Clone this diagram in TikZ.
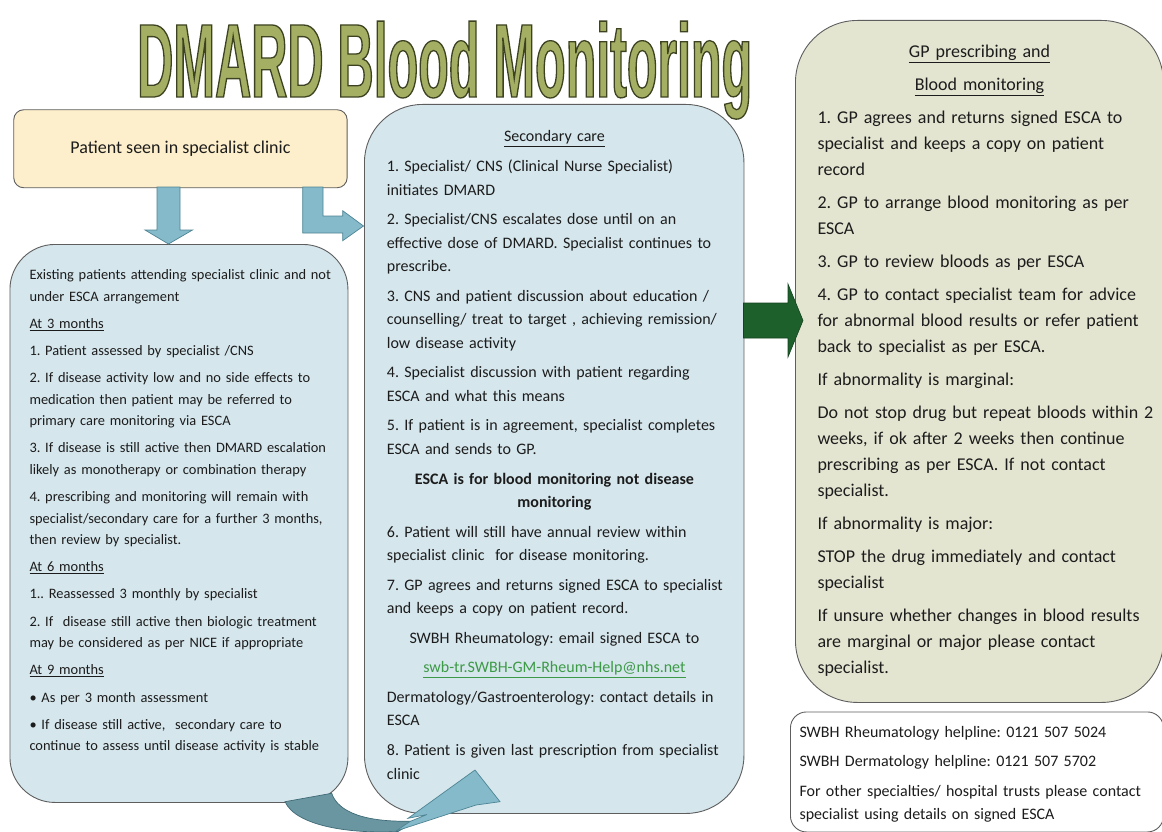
\documentclass[tikz,border=0pt]{standalone}
\usepackage{fontspec}
\setmainfont{Carlito}
\newfontfamily\titlefont[FakeStretch=0.4785]{Liberation Sans Bold}
\definecolor{txt}{HTML}{1C1C1C}
\definecolor{edge}{HTML}{5E5E5E}
\definecolor{patfill}{HTML}{FDEFCB}
\definecolor{bluefill}{HTML}{D5E6EC}
\definecolor{olivefill}{HTML}{E4E5D1}
\definecolor{arrblue}{HTML}{84BAC9}
\definecolor{arredge}{HTML}{4E8494}
\definecolor{darkband}{HTML}{6A96A2}
\definecolor{arrgreen}{HTML}{1E602C}
\definecolor{linkgreen}{HTML}{3C9A46}
\definecolor{titlefill}{HTML}{A5AF63}
\newcommand{\midc}[1]{\makebox[335pt][c]{#1}}
\newcommand{\rightc}[1]{\makebox[324pt][c]{#1}}
\frenchspacing
\begin{document}
\begin{tikzpicture}[x=1pt,y=-1pt,
  panel/.style={draw=edge, line width=0.9pt, anchor=north west, inner sep=0pt},
  bodytext/.style={anchor=base west, inner sep=0pt, align=left, text=txt},
  blockarrow/.style={fill=arrblue, draw=arredge, line width=0.7pt, line join=miter},
  titlestyle/.style={anchor=base west, inner sep=0pt, text=titlefill, font=\titlefont\fontsize{104.7}{110}\selectfont}]
\useasboundingbox[fill=white] (0,0) rectangle (1162,832);

% panels
\node[panel, fill=patfill, rounded corners=10pt, minimum width=333.4pt, minimum height=78pt,
      font=\fontsize{18}{22}\selectfont, text=txt] (patient) at (13.3,109.3) {Patient seen in specialist clinic};
\node[panel, fill=bluefill, rounded corners=45pt, minimum width=338pt, minimum height=558pt] (leftbox) at (9.5,244) {};
\node[panel, fill=bluefill, rounded corners=58pt, minimum width=379.5pt, minimum height=709pt] (midbox) at (364,104) {};
\node[panel, fill=olivefill, rounded corners=62pt, minimum width=368pt, minimum height=682pt] (rightbox) at (795,20) {};
\node[panel, fill=white, rounded corners=16pt, minimum width=373pt, minimum height=120pt] (helpbox) at (790,711.5) {};

% left text
\node[bodytext, text width=335pt, font=\fontsize{14.4}{21.5}\selectfont] (lefttxt) at (29.3,279.5) {%
Existing patients attending specialist clinic and not\\
under ESCA arrangement\\[5.7pt]
\underline{At 3 months}\\[5.7pt]
1. Patient assessed by specialist /CNS\\[5.7pt]
2. If disease activity low and no side effects to\\
medication then patient may be referred to\\
primary care monitoring via ESCA\\[5.7pt]
3. If disease is still active then DMARD escalation\\
likely as monotherapy or combination therapy\\[5.7pt]
4. prescribing and monitoring will remain with\\
specialist/secondary care for a further 3 months,\\
then review by specialist.\\[5.7pt]
\underline{At 6 months}\\[5.7pt]
1.. Reassessed 3 monthly by specialist\\[5.7pt]
2. If \ disease still active then biologic treatment\\
may be considered as per NICE if appropriate\\[5.7pt]
\underline{At 9 months}\\[5.7pt]
\textbullet\ As per 3 month assessment\\[5.7pt]
\textbullet\ If disease still active, \ secondary care to\\
continue to assess until disease activity is stable};

% middle text
\node[bodytext, text width=350pt, font=\fontsize{16}{23.6}\selectfont] (midtxt) at (386.7,141.9) {%
\midc{\underline{Secondary care}}\\[5.9pt]
1. Specialist/ CNS (Clinical Nurse Specialist)\\
initiates DMARD\\[5.9pt]
2. Specialist/CNS escalates dose until on an\\
effective dose of DMARD. Specialist continues to\\
prescribe.\\[5.9pt]
3. CNS and patient discussion about education /\\
counselling/ treat to target , achieving remission/\\
low disease activity\\[5.9pt]
4. Specialist discussion with patient regarding\\
ESCA and what this means\\[5.9pt]
5. If patient is in agreement, specialist completes\\
ESCA and sends to GP.\\[5.9pt]
\midc{\bfseries ESCA is for blood monitoring not disease}\\
\midc{\bfseries monitoring}\\[5.9pt]
6. Patient will still have annual review within\\
specialist clinic \ for disease monitoring.\\[5.9pt]
7. GP agrees and returns signed ESCA to specialist\\
and keeps a copy on patient record.\\[5.9pt]
\midc{SWBH Rheumatology: email signed ESCA to}\\[5.9pt]
\midc{\color{linkgreen}\underline{swb-tr.SWBH-GM-Rheum-Help@nhs.net}}\\[5.9pt]
Dermatology/Gastroenterology: contact details in\\
ESCA\\[5.9pt]
8. Patient is given last prescription from specialist\\
clinic};

% right text
\node[bodytext, text width=345pt, font=\fontsize{18}{26.3}\selectfont] (righttxt) at (817.3,57.7) {%
\rightc{\underline{GP prescribing and}}\\[6.4pt]
\rightc{\underline{Blood monitoring}}\\[6.4pt]
1. GP agrees and returns signed ESCA to\\
specialist and keeps a copy on patient\\
record\\[6.4pt]
2. GP to arrange blood monitoring as per\\
ESCA\\[6.4pt]
3. GP to review bloods as per ESCA\\[6.4pt]
4. GP to contact specialist team for advice\\
for abnormal blood results or refer patient\\
back to specialist as per ESCA.\\[6.4pt]
If abnormality is marginal:\\[6.4pt]
Do not stop drug but repeat bloods within 2\\
weeks, if ok after 2 weeks then continue\\
prescribing as per ESCA. If not contact\\
specialist.\\[6.4pt]
If abnormality is major:\\[6.4pt]
STOP the drug immediately and contact\\
specialist\\[6.4pt]
If unsure whether changes in blood results\\
are marginal or major please contact\\
specialist.};

% helpline text
\node[bodytext, text width=360pt, font=\fontsize{16}{23.3}\selectfont] (helptxt) at (799.3,737) {%
SWBH Rheumatology helpline: 0121 507 5024\\[6.2pt]
SWBH Dermatology helpline: 0121 507 5702\\[6.2pt]
For other specialties/ hospital trusts please contact\\
specialist using details on signed ESCA};

% arrows
\draw[blockarrow] (157,187) -- (157,230) -- (145,230) -- (168.5,244) -- (192.5,230) -- (180,230) -- (180,187) -- cycle;
\draw[blockarrow] (302.7,187) -- (302.7,233) -- (342.7,233) -- (342.7,240.7) -- (363.5,226) -- (342.7,210.7) -- (342.7,216) -- (323,216) -- (323,187) -- cycle;
\draw[fill=arrgreen, draw=arrgreen!70!black, line width=0.6pt, line join=miter]
  (743.5,303) -- (788,303) -- (788,284) -- (803,320.5) -- (788,357) -- (788,338) -- (743.5,338) -- cycle;
\draw[fill=darkband, draw=arredge!80!black, line width=0.7pt]
  (285,801.7) -- (331.7,793.3) .. controls (338,812) and (365,823) .. (416,821)
  -- (398,831.5) .. controls (350,834) and (296,826) .. (285,801.7) -- cycle;
\draw[blockarrow] (396,831) -- (476,805) -- (500,801.7) -- (475,770) -- (408,818.3) -- (427,814.5) -- (410,821.5) -- cycle;

% title (outlined text, drawn last)
\node[titlestyle] (title) at (137,97) {\special{pdf:literal direct 2 Tr 1.3 w 0.24 0.26 0.13 RG}DMARD Blood Monitoring\special{pdf:literal direct 0 Tr}};
\end{tikzpicture}
\end{document}
